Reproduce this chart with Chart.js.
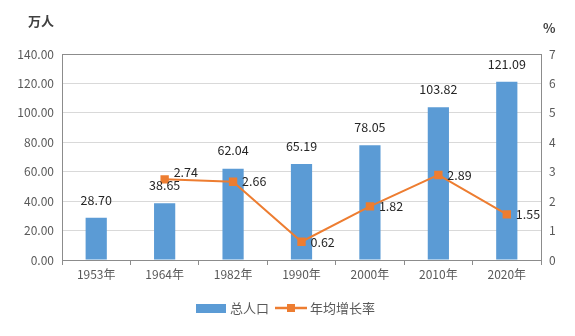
<!DOCTYPE html>
<html>
<head>
<meta charset="utf-8">
<script src="https://cdn.jsdelivr.net/npm/chart.js@4/dist/chart.umd.min.js"></script>
<style>
  html, body { margin: 0; padding: 0; background: #fff; }
  #wrap { width: 575px; height: 336px; }
</style>
</head>
<body>
<div id="wrap"><canvas id="chart"></canvas></div>
<script>
var years = ["1953年", "1964年", "1982年", "1990年", "2000年", "2010年", "2020年"];
var population = [28.70, 38.65, 62.04, 65.19, 78.05, 103.82, 121.09];
var growthRate = [null, 2.74, 2.66, 0.62, 1.82, 2.89, 1.55];

var FONT = '"Noto Sans CJK SC", "DejaVu Sans", sans-serif';
var BLUE = '#5B9BD5';
var ORANGE = '#ED7D31';

// labels on bars and points, axis titles, legend
var labelsPlugin = {
    id: 'labelsPlugin',
    afterDatasetsDraw: function (chart) {
        var ctx = chart.ctx;
        ctx.save();
        ctx.font = '12.5px ' + FONT;
        ctx.fillStyle = '#262626';

        var bars = chart.getDatasetMeta(0).data;
        ctx.textAlign = 'center';
        ctx.textBaseline = 'middle';
        bars.forEach(function (bar, i) {
            ctx.fillText(population[i].toFixed(2), bar.x, bar.y - 18);
        });

        var pts = chart.getDatasetMeta(1).data;
        ctx.textAlign = 'left';
        pts.forEach(function (pt, i) {
            if (growthRate[i] === null) return;
            // first label sits a bit higher, clear of the bar label
            var dy = i === 1 ? -7 : 0;
            ctx.fillText(growthRate[i].toFixed(2), pt.x + 9, pt.y + dy);
        });
        ctx.restore();
    },
    afterDraw: function (chart) {
        var ctx = chart.ctx;
        var area = chart.chartArea;
        ctx.save();
        // top frame line
        ctx.strokeStyle = '#8c8c8c';
        ctx.lineWidth = 1;
        ctx.beginPath();
        ctx.moveTo(area.left, Math.round(area.top) + 0.5);
        ctx.lineTo(area.right, Math.round(area.top) + 0.5);
        ctx.stroke();

        ctx.fillStyle = '#404040';
        ctx.font = 'bold 13px ' + FONT;
        ctx.textBaseline = 'middle';
        ctx.textAlign = 'left';
        ctx.fillText('万人', 28, 21);
        ctx.fillText('%', 543, 28);

        // legend
        var ly = 308;
        ctx.fillStyle = BLUE;
        ctx.fillRect(196, ly - 4, 30, 9);
        ctx.font = '13px ' + FONT;
        ctx.fillStyle = '#595959';
        ctx.fillText('总人口', 230, ly);
        ctx.strokeStyle = ORANGE;
        ctx.lineWidth = 2.5;
        ctx.beginPath();
        ctx.moveTo(275, ly);
        ctx.lineTo(307, ly);
        ctx.stroke();
        ctx.fillStyle = ORANGE;
        ctx.fillRect(287, ly - 4, 8, 8);
        ctx.fillStyle = '#595959';
        ctx.fillText('年均增长率', 310, ly);
        ctx.restore();
    }
};

new Chart(document.getElementById('chart'), {
    data: {
        labels: years,
        datasets: [{
            type: 'bar',
            label: '总人口',
            data: population,
            backgroundColor: BLUE,
            barPercentage: 0.31,
            categoryPercentage: 1,
            yAxisID: 'y',
            order: 2
        }, {
            type: 'line',
            label: '年均增长率',
            data: growthRate,
            borderColor: ORANGE,
            backgroundColor: ORANGE,
            borderWidth: 2,
            pointStyle: 'rect',
            pointRadius: 4.5,
            pointHoverRadius: 4.5,
            spanGaps: true,
            yAxisID: 'y1',
            order: 1
        }]
    },
    options: {
        responsive: true,
        maintainAspectRatio: false,
        animation: false,
        layout: { padding: { top: 54, bottom: 46, left: 0, right: 0 } },
        plugins: {
            legend: { display: false },
            tooltip: { enabled: false }
        },
        scales: {
            x: {
                grid: { display: true, drawOnChartArea: false, offset: true, tickLength: 5, color: '#8c8c8c' },
                border: { color: '#8c8c8c' },
                ticks: { color: '#595959', font: { family: FONT, size: 12 }, maxRotation: 0, padding: 2 },
                afterFit: function (s) { s.height = 30; }
            },
            y: {
                position: 'left',
                min: 0, max: 140,
                ticks: { stepSize: 20, color: '#595959', font: { family: FONT, size: 12 }, padding: 8,
                    callback: function (v) { return v.toFixed(2); } },
                grid: { color: '#d9d9d9', drawTicks: false },
                border: { color: '#8c8c8c' },
                afterFit: function (s) { s.width = 62; }
            },
            y1: {
                position: 'right',
                min: 0, max: 7,
                ticks: { stepSize: 1, color: '#595959', font: { family: FONT, size: 12 }, padding: 8 },
                grid: { drawOnChartArea: false, drawTicks: false },
                border: { color: '#8c8c8c' },
                afterFit: function (s) { s.width = 34; }
            }
        }
    },
    plugins: [labelsPlugin]
});
</script>
</body>
</html>
